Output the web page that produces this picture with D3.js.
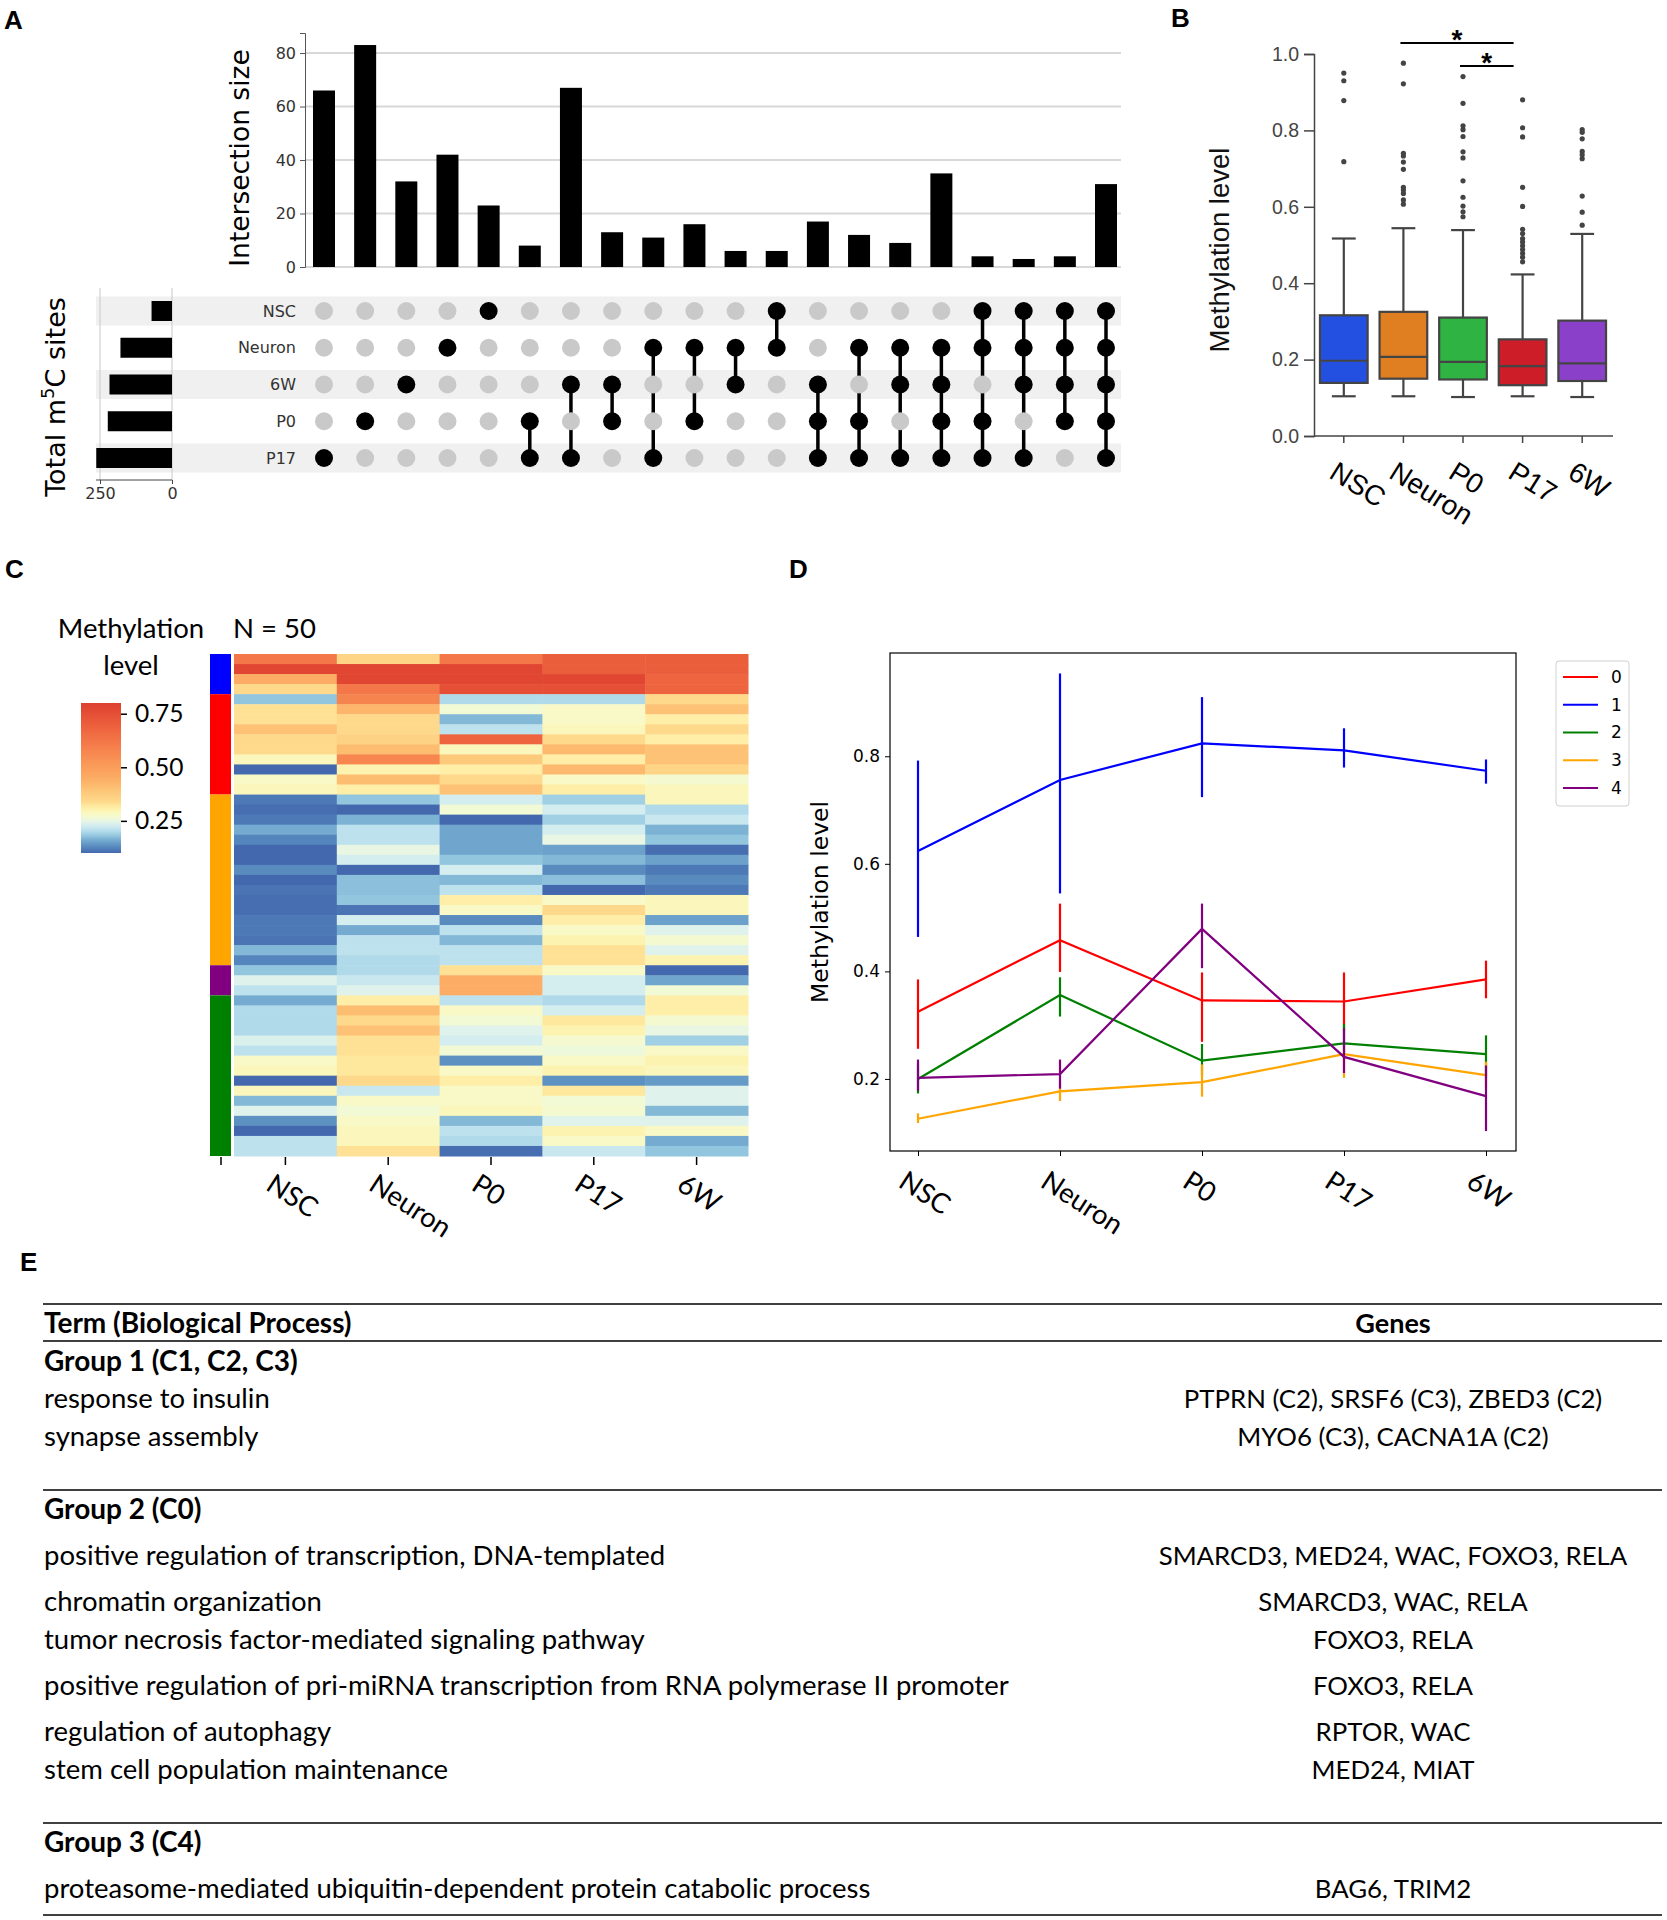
<!DOCTYPE html>
<html>
<head>
<meta charset="utf-8">
<script src="https://cdn.jsdelivr.net/npm/d3@7/dist/d3.min.js"></script>
<style>
  body { margin: 0; background: #fff; }
  svg { display: block; }
</style>
</head>
<body>
<svg id="fig" width="1667" height="1920"></svg>
<script>
// ---------- data ----------
const stages = ['NSC', 'Neuron', 'P0', 'P17', '6W'];

// A: upset plot
const upsetSets = ['NSC', 'Neuron', '6W', 'P0', 'P17'];
const setTotals = [71, 179, 217, 223, 263];
const intersectionSizes = [66, 83, 32, 42, 23, 8, 67, 13, 11, 16, 6, 6, 17, 12, 9, 35, 4, 3, 4, 31];
const intersectionMembers = [
  ['P17'], ['P0'], ['6W'], ['Neuron'], ['NSC'],
  ['P0', 'P17'], ['6W', 'P17'], ['6W', 'P0'], ['Neuron', 'P17'], ['Neuron', 'P0'], ['Neuron', '6W'], ['NSC', 'Neuron'],
  ['6W', 'P0', 'P17'], ['Neuron', 'P0', 'P17'], ['Neuron', '6W', 'P17'], ['Neuron', '6W', 'P0', 'P17'],
  ['NSC', 'Neuron', 'P0', 'P17'], ['NSC', 'Neuron', '6W', 'P17'], ['NSC', 'Neuron', '6W', 'P0'],
  ['NSC', 'Neuron', '6W', 'P0', 'P17']
];
const intersectionTicks = [0, 20, 40, 60, 80];
const setTicks = [250, 0];

// B: box plot stats per stage
const boxQ1 = [0.139, 0.150, 0.148, 0.133, 0.144];
const boxMedian = [0.197, 0.207, 0.194, 0.183, 0.190];
const boxQ3 = [0.316, 0.325, 0.310, 0.253, 0.302];
const whiskerLow = [0.104, 0.104, 0.102, 0.104, 0.102];
const whiskerHigh = [0.517, 0.544, 0.539, 0.423, 0.529];
const boxOutliers = [
  [0.950, 0.930, 0.878, 0.718],
  [0.976, 0.922, 0.740, 0.733, 0.717, 0.698, 0.651, 0.644, 0.635, 0.618, 0.607],
  [0.941, 0.871, 0.812, 0.802, 0.784, 0.744, 0.728, 0.668, 0.625, 0.602, 0.587, 0.574],
  [0.880, 0.807, 0.783, 0.651, 0.601, 0.541, 0.530, 0.517, 0.508, 0.498, 0.488, 0.478, 0.468, 0.456],
  [0.802, 0.795, 0.778, 0.745, 0.736, 0.726, 0.628, 0.586, 0.552]
];
const boxColors = ['#2350e0', '#e07f22', '#2fb443', '#cc1d29', '#8a40c8'];
const boxTicks = [0, 0.2, 0.4, 0.6, 0.8, 1.0];
const sigPairs = [['Neuron', 'P17'], ['P0', 'P17']];

// C: heatmap (rows top to bottom, columns = stages)
const heatValues = [
  [0.62, 0.35, 0.62, 0.70, 0.70],
  [0.78, 0.78, 0.78, 0.70, 0.70],
  [0.45, 0.78, 0.78, 0.78, 0.68],
  [0.34, 0.62, 0.75, 0.75, 0.68],
  [0.18, 0.58, 0.20, 0.20, 0.34],
  [0.33, 0.43, 0.265, 0.28, 0.40],
  [0.33, 0.34, 0.17, 0.28, 0.31],
  [0.40, 0.34, 0.21, 0.29, 0.34],
  [0.34, 0.36, 0.68, 0.34, 0.31],
  [0.34, 0.41, 0.29, 0.42, 0.40],
  [0.29, 0.57, 0.38, 0.31, 0.40],
  [0.10, 0.30, 0.31, 0.42, 0.35],
  [0.28, 0.41, 0.34, 0.28, 0.27],
  [0.29, 0.31, 0.40, 0.31, 0.29],
  [0.115, 0.18, 0.23, 0.19, 0.29],
  [0.105, 0.10, 0.265, 0.23, 0.20],
  [0.115, 0.165, 0.10, 0.19, 0.22],
  [0.16, 0.21, 0.155, 0.23, 0.165],
  [0.125, 0.21, 0.155, 0.25, 0.18],
  [0.10, 0.25, 0.155, 0.15, 0.105],
  [0.10, 0.23, 0.18, 0.17, 0.15],
  [0.13, 0.10, 0.23, 0.13, 0.115],
  [0.10, 0.175, 0.17, 0.175, 0.13],
  [0.11, 0.175, 0.21, 0.10, 0.115],
  [0.105, 0.18, 0.31, 0.28, 0.29],
  [0.105, 0.11, 0.28, 0.34, 0.29],
  [0.115, 0.23, 0.13, 0.31, 0.15],
  [0.115, 0.16, 0.21, 0.28, 0.24],
  [0.11, 0.21, 0.17, 0.30, 0.27],
  [0.17, 0.21, 0.21, 0.33, 0.24],
  [0.125, 0.20, 0.21, 0.33, 0.30],
  [0.18, 0.20, 0.33, 0.28, 0.10],
  [0.24, 0.22, 0.45, 0.23, 0.155],
  [0.21, 0.24, 0.45, 0.23, 0.265],
  [0.16, 0.31, 0.21, 0.20, 0.31],
  [0.20, 0.41, 0.28, 0.23, 0.31],
  [0.20, 0.34, 0.265, 0.32, 0.27],
  [0.20, 0.40, 0.24, 0.30, 0.25],
  [0.235, 0.33, 0.23, 0.27, 0.19],
  [0.21, 0.33, 0.265, 0.26, 0.28],
  [0.28, 0.32, 0.135, 0.28, 0.30],
  [0.29, 0.32, 0.28, 0.30, 0.29],
  [0.10, 0.34, 0.31, 0.135, 0.145],
  [0.29, 0.22, 0.28, 0.32, 0.24],
  [0.17, 0.28, 0.28, 0.265, 0.24],
  [0.24, 0.265, 0.29, 0.27, 0.17],
  [0.135, 0.28, 0.17, 0.24, 0.24],
  [0.10, 0.29, 0.21, 0.30, 0.28],
  [0.21, 0.29, 0.20, 0.28, 0.16],
  [0.21, 0.33, 0.105, 0.22, 0.18]
];
const clusterOrder = ['1', '0', '3', '4', '2'];
const clusterRowCounts = [4, 10, 17, 3, 16];
const colorbarTicks = [0.25, 0.50, 0.75];

// D: cluster means with error bars
const clusterIds = ['0', '1', '2', '3', '4'];
const clusterColors = ['#ff0000', '#0000ff', '#008000', '#ffa500', '#800080'];
const clusterMean = [
  [0.325, 0.458, 0.346, 0.344, 0.385],
  [0.624, 0.756, 0.824, 0.811, 0.773],
  [0.200, 0.356, 0.234, 0.266, 0.246],
  [0.126, 0.177, 0.194, 0.246, 0.207],
  [0.202, 0.209, 0.479, 0.241, 0.168]
];
const clusterErrLow = [
  [0.256, 0.399, 0.269, 0.290, 0.350],
  [0.464, 0.545, 0.724, 0.779, 0.749],
  [0.173, 0.316, 0.207, 0.236, 0.202],
  [0.118, 0.159, 0.167, 0.202, 0.182],
  [0.178, 0.182, 0.406, 0.211, 0.103]
];
const clusterErrHigh = [
  [0.385, 0.526, 0.398, 0.398, 0.420],
  [0.792, 0.954, 0.910, 0.852, 0.794],
  [0.227, 0.389, 0.265, 0.302, 0.281],
  [0.136, 0.194, 0.227, 0.261, 0.232],
  [0.236, 0.236, 0.526, 0.294, 0.225]
];
const lineTicks = [0.2, 0.4, 0.6, 0.8];

// E: GO table
const groupTitles = ['Group 1 (C1, C2, C3)', 'Group 2 (C0)', 'Group 3 (C4)'];
const groupTerms = [
  ['response to insulin', 'synapse assembly'],
  ['positive regulation of transcription, DNA-templated', 'chromatin organization',
   'tumor necrosis factor-mediated signaling pathway',
   'positive regulation of pri-miRNA transcription from RNA polymerase II promoter',
   'regulation of autophagy', 'stem cell population maintenance'],
  ['proteasome-mediated ubiquitin-dependent protein catabolic process']
];
const groupGenes = [
  ['PTPRN (C2), SRSF6 (C3), ZBED3 (C2)', 'MYO6 (C3), CACNA1A (C2)'],
  ['SMARCD3, MED24, WAC, FOXO3, RELA', 'SMARCD3, WAC, RELA', 'FOXO3, RELA', 'FOXO3, RELA',
   'RPTOR, WAC', 'MED24, MIAT'],
  ['BAG6, TRIM2']
];

// ---------- drawing ----------
const svg = d3.select('#fig');
const dejavu = 'DejaVu Sans, sans-serif';
const arial = 'Liberation Sans, Arial, sans-serif';
const lato = 'Lato, Open Sans, sans-serif';

function panelLetter(t, x, y) {
  svg.append('text').attr('x', x).attr('y', y).text(t)
    .attr('font-family', arial).attr('font-weight', 'bold').attr('font-size', 26);
}
panelLetter('A', 4, 29);
panelLetter('B', 1171, 27);
panelLetter('C', 5, 578);
panelLetter('D', 789, 578);
panelLetter('E', 20, 1271);

// ===== Panel A =====
const gA = svg.append('g');
const colX = d3.scalePoint().domain(d3.range(intersectionSizes.length)).range([324, 1106]);
const barY = d3.scaleLinear().domain([0, 87.5]).range([267, 33]);
const rowY = d3.scalePoint().domain(upsetSets).range([311, 458]);
const setX = d3.scaleLinear().domain([0, 250]).range([172, 100]);

gA.selectAll('line.grid').data(intersectionTicks).join('line')
  .attr('x1', 305).attr('x2', 1121)
  .attr('y1', d => barY(d)).attr('y2', d => barY(d))
  .attr('stroke', '#d8d8d8').attr('stroke-width', 2);

const axA = gA.append('g').attr('transform', 'translate(305,0)')
  .call(d3.axisLeft(barY).tickValues(intersectionTicks).tickSize(5).tickPadding(4));
axA.select('.domain').attr('stroke', '#555');
axA.selectAll('line').attr('stroke', '#555');
axA.selectAll('text').attr('font-family', dejavu).attr('font-size', 16).attr('fill', '#333');

gA.selectAll('rect.bar').data(intersectionSizes).join('rect')
  .attr('x', (d, i) => colX(i) - 11).attr('width', 22)
  .attr('y', d => barY(d)).attr('height', d => barY(0) - barY(d))
  .attr('fill', '#000');

gA.append('text').attr('transform', 'translate(249,158) rotate(-90)')
  .attr('text-anchor', 'middle').attr('font-family', dejavu).attr('font-size', 26.5)
  .text('Intersection size');

// shaded rows
gA.selectAll('rect.band').data(upsetSets.filter((s, i) => i % 2 === 0)).join('rect')
  .attr('x', 96).attr('width', 1025)
  .attr('y', d => rowY(d) - 14.5).attr('height', 29)
  .attr('fill', '#f0f0f0');

// set size grid + bars
gA.selectAll('line.sgrid').data(setTicks).join('line')
  .attr('x1', d => setX(d)).attr('x2', d => setX(d)).attr('y1', 288).attr('y2', 480)
  .attr('stroke', '#c8c8c8').attr('stroke-width', 1);
gA.selectAll('rect.set').data(setTotals).join('rect')
  .attr('x', d => setX(d)).attr('width', d => setX(0) - setX(d))
  .attr('y', (d, i) => rowY(upsetSets[i]) - 10).attr('height', 20)
  .attr('fill', '#000');
const axS = gA.append('g').attr('transform', 'translate(0,480)')
  .call(d3.axisBottom(setX).tickValues(setTicks).tickSize(4).tickPadding(4));
axS.select('.domain').attr('stroke', '#444').attr('d', 'M96,0H172');
axS.selectAll('line').attr('stroke', '#444');
axS.selectAll('text').attr('font-family', dejavu).attr('font-size', 16).attr('fill', '#333');

const tTot = gA.append('text').attr('transform', 'translate(65,397) rotate(-90)')
  .attr('text-anchor', 'middle').attr('font-family', dejavu).attr('font-size', 27);
tTot.append('tspan').text('Total m');
tTot.append('tspan').attr('font-size', 18).attr('dy', -11).text('5');
tTot.append('tspan').attr('dy', 11).text('C sites');

gA.selectAll('text.rowlab').data(upsetSets).join('text')
  .attr('x', 296).attr('y', d => rowY(d)).attr('dy', '0.35em')
  .attr('text-anchor', 'end').attr('font-family', dejavu).attr('font-size', 16).attr('fill', '#333')
  .text(d => d);

// connector lines and dots
intersectionMembers.forEach((mem, i) => {
  if (mem.length > 1) {
    const ys = mem.map(s => rowY(s));
    gA.append('line').attr('x1', colX(i)).attr('x2', colX(i))
      .attr('y1', d3.min(ys)).attr('y2', d3.max(ys))
      .attr('stroke', '#000').attr('stroke-width', 3.5);
  }
  gA.selectAll(null).data(upsetSets).join('circle')
    .attr('cx', colX(i)).attr('cy', s => rowY(s)).attr('r', 9)
    .attr('fill', s => mem.includes(s) ? '#000' : '#c9c9c9');
});

// ===== Panel B =====
const gB = svg.append('g');
const xB = d3.scaleBand().domain(stages).range([1314, 1612]);
const yB = d3.scaleLinear().domain([0, 1]).range([436, 54]);
const bw = xB.bandwidth() * 0.8;
const axBy = gB.append('g').attr('transform', 'translate(1314,0)')
  .call(d3.axisLeft(yB).tickValues(boxTicks).tickFormat(d3.format('.1f')).tickSize(10).tickPadding(5));
const axBx = gB.append('g').attr('transform', 'translate(0,436)')
  .call(d3.axisBottom(xB).tickSize(7).tickFormat(''));
[axBy, axBx].forEach(a => {
  a.select('.domain').attr('stroke', '#444').attr('stroke-width', 1.5);
  a.selectAll('line').attr('stroke', '#444').attr('stroke-width', 1.5);
});
axBx.select('.domain').attr('d', 'M1314,0H1613');
axBy.selectAll('text').attr('font-family', arial).attr('font-size', 19.5).attr('fill', '#444');

stages.forEach((s, i) => {
  const cx = xB(s) + xB.bandwidth() / 2;
  const g = gB.append('g');
  g.append('line').attr('x1', cx).attr('x2', cx)
    .attr('y1', yB(whiskerHigh[i])).attr('y2', yB(boxQ3[i]))
    .attr('stroke', '#444').attr('stroke-width', 2.2);
  g.append('line').attr('x1', cx).attr('x2', cx)
    .attr('y1', yB(boxQ1[i])).attr('y2', yB(whiskerLow[i]))
    .attr('stroke', '#444').attr('stroke-width', 2.2);
  [whiskerHigh[i], whiskerLow[i]].forEach(v => {
    g.append('line').attr('x1', cx - bw / 4).attr('x2', cx + bw / 4)
      .attr('y1', yB(v)).attr('y2', yB(v))
      .attr('stroke', '#444').attr('stroke-width', 2.2);
  });
  g.append('rect').attr('x', cx - bw / 2).attr('width', bw)
    .attr('y', yB(boxQ3[i])).attr('height', yB(boxQ1[i]) - yB(boxQ3[i]))
    .attr('fill', boxColors[i]).attr('stroke', '#444').attr('stroke-width', 2.2);
  g.append('line').attr('x1', cx - bw / 2).attr('x2', cx + bw / 2)
    .attr('y1', yB(boxMedian[i])).attr('y2', yB(boxMedian[i]))
    .attr('stroke', '#444').attr('stroke-width', 2.2);
  g.selectAll('circle').data(boxOutliers[i]).join('circle')
    .attr('cx', cx).attr('cy', d => yB(d)).attr('r', 2.6).attr('fill', '#444');
  g.append('text').attr('transform', `translate(${cx - 16},477) rotate(32)`)
    .attr('font-family', arial).attr('font-size', 28).text(s);
});

gB.append('text').attr('transform', 'translate(1229,250) rotate(-90)')
  .attr('text-anchor', 'middle').attr('font-family', arial).attr('font-size', 27.5).attr('fill', '#111')
  .text('Methylation level');

const sigY = [43, 66];
sigPairs.forEach((p, k) => {
  const x1 = xB(p[0]) + xB.bandwidth() / 2 - 3;
  const x2 = xB(p[1]) + xB.bandwidth() / 2 - 9;
  gB.append('line').attr('x1', x1).attr('x2', x2).attr('y1', sigY[k]).attr('y2', sigY[k])
    .attr('stroke', '#000').attr('stroke-width', 2);
  gB.append('text').attr('x', (x1 + x2) / 2).attr('y', sigY[k] + 6)
    .attr('text-anchor', 'middle').attr('font-family', arial).attr('font-weight', 'bold')
    .attr('font-size', 28).text('*');
});

// ===== Panel C =====
const gC = svg.append('g');
const xC = d3.scaleBand().domain(stages).range([234, 748]);
const yC = d3.scaleBand().domain(d3.range(heatValues.length)).range([654, 1156]);
const normT = d3.scaleLinear()
  .domain([0.10, 0.16, 0.20, 0.25, 0.34, 0.45, 0.80])
  .range([0.08, 0.20, 0.31, 0.43, 0.61, 0.70, 0.875]).clamp(true);
const heatColor = v => d3.interpolateRdYlBu(1 - normT(v));
const clusterColorOf = id => clusterColors[clusterIds.indexOf(id)];

heatValues.forEach((row, r) => {
  gC.selectAll(null).data(row).join('rect')
    .attr('x', (d, c) => xC(stages[c])).attr('width', xC.bandwidth() + 0.5)
    .attr('y', yC(r)).attr('height', yC.bandwidth() + 0.5)
    .attr('fill', d => heatColor(d));
});

let startRow = 0;
clusterOrder.forEach((id, k) => {
  const n = clusterRowCounts[k];
  gC.append('rect').attr('x', 210).attr('width', 21)
    .attr('y', yC(startRow)).attr('height', yC.bandwidth() * n)
    .attr('fill', clusterColorOf(id));
  startRow += n;
});

const tickXs = [221].concat(stages.map(s => xC(s) + xC.bandwidth() / 2));
gC.selectAll('line.ct').data(tickXs).join('line')
  .attr('x1', d => d).attr('x2', d => d).attr('y1', 1157).attr('y2', 1165)
  .attr('stroke', '#000').attr('stroke-width', 1.5);
stages.forEach(s => {
  gC.append('text').attr('transform', `translate(${xC(s) + xC.bandwidth() / 2 - 21},1189) rotate(33)`)
    .attr('font-family', lato).attr('font-size', 27.5).text(s);
});

gC.append('text').attr('x', 131).attr('y', 638).attr('text-anchor', 'middle')
  .attr('font-family', lato).attr('font-size', 27.5).text('Methylation');
gC.append('text').attr('x', 131).attr('y', 675).attr('text-anchor', 'middle')
  .attr('font-family', lato).attr('font-size', 27.5).text('level');
gC.append('text').attr('x', 233).attr('y', 638)
  .attr('font-family', lato).attr('font-size', 27.5).text('N = 50');

// colorbar
const cbY = d3.scaleLinear().domain([0.10, 0.80]).range([853, 703]);
const grad = svg.append('defs').append('linearGradient').attr('id', 'cbgrad')
  .attr('x1', 0).attr('x2', 0).attr('y1', 1).attr('y2', 0);
d3.range(0.10, 0.8001, 0.01).forEach(v => {
  grad.append('stop').attr('offset', (v - 0.10) / 0.70).attr('stop-color', heatColor(v));
});
gC.append('rect').attr('x', 81).attr('y', 703).attr('width', 40).attr('height', 150)
  .attr('fill', 'url(#cbgrad)');
const axCb = gC.append('g').attr('transform', 'translate(121,0)')
  .call(d3.axisRight(cbY).tickValues(colorbarTicks).tickFormat(d3.format('.2f')).tickSize(6).tickPadding(8));
axCb.select('.domain').remove();
axCb.selectAll('line').attr('stroke', '#000').attr('stroke-width', 1.5);
axCb.selectAll('text').attr('font-family', lato).attr('font-size', 24.5).attr('fill', '#000');

// ===== Panel D =====
const gD = svg.append('g');
const xD = d3.scalePoint().domain(stages).range([918, 1486]);
const yD = d3.scaleLinear().domain([0.066, 0.992]).range([1151, 653]);
gD.append('rect').attr('x', 890).attr('y', 653).attr('width', 626).attr('height', 498)
  .attr('fill', 'none').attr('stroke', '#000').attr('stroke-width', 1.2);
const axDy = gD.append('g').attr('transform', 'translate(890,0)')
  .call(d3.axisLeft(yD).tickValues(lineTicks).tickFormat(d3.format('.1f')).tickSize(5).tickPadding(5));
const axDx = gD.append('g').attr('transform', 'translate(0,1151)')
  .call(d3.axisBottom(xD).tickSize(5).tickFormat(''));
[axDy, axDx].forEach(a => { a.select('.domain').remove(); a.selectAll('line').attr('stroke', '#000'); });
axDy.selectAll('text').attr('font-family', dejavu).attr('font-size', 17).attr('fill', '#000');
stages.forEach(s => {
  gD.append('text').attr('transform', `translate(${xD(s) - 21},1186) rotate(33)`)
    .attr('font-family', lato).attr('font-size', 27.5).text(s);
});
gD.append('text').attr('transform', 'translate(828,902) rotate(-90)')
  .attr('text-anchor', 'middle').attr('font-family', dejavu).attr('font-size', 23.5)
  .text('Methylation level');

const lineGen = d3.line().x((d, i) => xD(stages[i])).y(d => yD(d));
clusterIds.forEach((id, k) => {
  gD.append('path').datum(clusterMean[k]).attr('d', lineGen)
    .attr('fill', 'none').attr('stroke', clusterColors[k]).attr('stroke-width', 2.2);
  gD.selectAll(null).data(stages).join('line')
    .attr('x1', s => xD(s)).attr('x2', s => xD(s))
    .attr('y1', (s, i) => yD(clusterErrLow[k][i])).attr('y2', (s, i) => yD(clusterErrHigh[k][i]))
    .attr('stroke', clusterColors[k]).attr('stroke-width', 2.2);
});

const leg = gD.append('g');
leg.append('rect').attr('x', 1556).attr('y', 661).attr('width', 73).attr('height', 145)
  .attr('rx', 3).attr('fill', '#fff').attr('stroke', '#d0d0d0');
const legY = d3.scalePoint().domain(clusterIds).range([677, 788]);
clusterIds.forEach((id, k) => {
  leg.append('line').attr('x1', 1563).attr('x2', 1598).attr('y1', legY(id)).attr('y2', legY(id))
    .attr('stroke', clusterColors[k]).attr('stroke-width', 2.2);
  leg.append('text').attr('x', 1611).attr('y', legY(id)).attr('dy', '0.35em')
    .attr('font-family', dejavu).attr('font-size', 17).text(id);
});

// ===== Panel E =====
const gE = svg.append('g');
const ruleYs = [1304, 1341, 1490, 1823, 1915];
gE.selectAll('line.rule').data(ruleYs).join('line')
  .attr('x1', 43).attr('x2', 1662).attr('y1', d => d).attr('y2', d => d)
  .attr('stroke', '#000').attr('stroke-width', 1.6);
const geneX = 1393;
function tableText(t, x, yc, bold, anchor, size) {
  gE.append('text').attr('x', x).attr('y', yc + 9).text(t)
    .attr('font-family', lato).attr('font-size', size || 27.5)
    .attr('font-weight', bold ? 'bold' : 'normal')
    .attr('text-anchor', anchor || 'start');
}
tableText('Term (Biological Process)', 44, 1324, true, 'start', 28);
tableText('Genes', geneX, 1324, true, 'middle', 27);
const groupYs = [1362, 1510, 1843];
const termYs = [[1399, 1437], [1556, 1602, 1640, 1686, 1732, 1770], [1889]];
groupTitles.forEach((g, k) => {
  tableText(g, 44, groupYs[k], true, 'start', 28);
  groupTerms[k].forEach((t, j) => {
    tableText(t, 44, termYs[k][j], false);
    tableText(groupGenes[k][j], geneX, termYs[k][j], false, 'middle', 25.8);
  });
});
</script>
</body>
</html>
